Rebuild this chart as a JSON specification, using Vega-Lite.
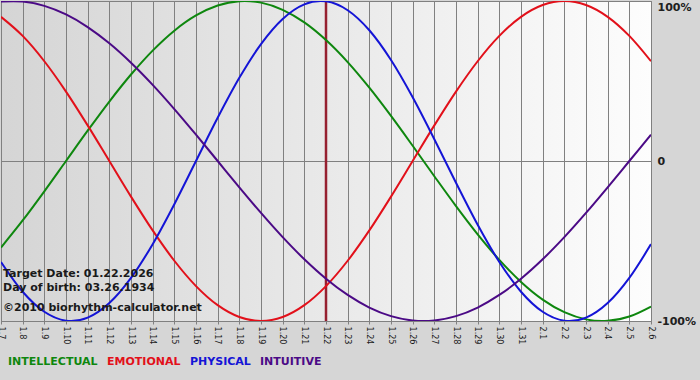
{
  "$schema": "https://vega.github.io/schema/vega-lite/v6.json",
  "width": 650,
  "height": 320,
  "autosize": "none",
  "padding": {"left": 1, "top": 1, "right": 49, "bottom": 59},
  "background": "#d6d6d6",
  "datasets": {
    "bio": [
      {"d":"1.7","s":"INTELLECTUAL","v":-0.5406},{"d":"1.8","s":"INTELLECTUAL","v":-0.3717},{"d":"1.9","s":"INTELLECTUAL","v":-0.1893},{"d":"1.10","s":"INTELLECTUAL","v":0},{"d":"1.11","s":"INTELLECTUAL","v":0.1893},{"d":"1.12","s":"INTELLECTUAL","v":0.3717},{"d":"1.13","s":"INTELLECTUAL","v":0.5406},{"d":"1.14","s":"INTELLECTUAL","v":0.6901},{"d":"1.15","s":"INTELLECTUAL","v":0.8146},{"d":"1.16","s":"INTELLECTUAL","v":0.9096},{"d":"1.17","s":"INTELLECTUAL","v":0.9718},{"d":"1.18","s":"INTELLECTUAL","v":0.9989},{"d":"1.19","s":"INTELLECTUAL","v":0.9898},{"d":"1.20","s":"INTELLECTUAL","v":0.945},{"d":"1.21","s":"INTELLECTUAL","v":0.866},{"d":"1.22","s":"INTELLECTUAL","v":0.7557},{"d":"1.23","s":"INTELLECTUAL","v":0.6182},{"d":"1.24","s":"INTELLECTUAL","v":0.4582},{"d":"1.25","s":"INTELLECTUAL","v":0.2817},{"d":"1.26","s":"INTELLECTUAL","v":0.0951},{"d":"1.27","s":"INTELLECTUAL","v":-0.0951},{"d":"1.28","s":"INTELLECTUAL","v":-0.2817},{"d":"1.29","s":"INTELLECTUAL","v":-0.4582},{"d":"1.30","s":"INTELLECTUAL","v":-0.6182},{"d":"1.31","s":"INTELLECTUAL","v":-0.7557},{"d":"2.1","s":"INTELLECTUAL","v":-0.866},{"d":"2.2","s":"INTELLECTUAL","v":-0.945},{"d":"2.3","s":"INTELLECTUAL","v":-0.9898},{"d":"2.4","s":"INTELLECTUAL","v":-0.9989},{"d":"2.5","s":"INTELLECTUAL","v":-0.9718},{"d":"2.6","s":"INTELLECTUAL","v":-0.9096},
      {"d":"1.7","s":"EMOTIONAL","v":0.901},{"d":"1.8","s":"EMOTIONAL","v":0.7818},{"d":"1.9","s":"EMOTIONAL","v":0.6235},{"d":"1.10","s":"EMOTIONAL","v":0.4339},{"d":"1.11","s":"EMOTIONAL","v":0.2225},{"d":"1.12","s":"EMOTIONAL","v":0},{"d":"1.13","s":"EMOTIONAL","v":-0.2225},{"d":"1.14","s":"EMOTIONAL","v":-0.4339},{"d":"1.15","s":"EMOTIONAL","v":-0.6235},{"d":"1.16","s":"EMOTIONAL","v":-0.7818},{"d":"1.17","s":"EMOTIONAL","v":-0.901},{"d":"1.18","s":"EMOTIONAL","v":-0.9749},{"d":"1.19","s":"EMOTIONAL","v":-1},{"d":"1.20","s":"EMOTIONAL","v":-0.9749},{"d":"1.21","s":"EMOTIONAL","v":-0.901},{"d":"1.22","s":"EMOTIONAL","v":-0.7818},{"d":"1.23","s":"EMOTIONAL","v":-0.6235},{"d":"1.24","s":"EMOTIONAL","v":-0.4339},{"d":"1.25","s":"EMOTIONAL","v":-0.2225},{"d":"1.26","s":"EMOTIONAL","v":0},{"d":"1.27","s":"EMOTIONAL","v":0.2225},{"d":"1.28","s":"EMOTIONAL","v":0.4339},{"d":"1.29","s":"EMOTIONAL","v":0.6235},{"d":"1.30","s":"EMOTIONAL","v":0.7818},{"d":"1.31","s":"EMOTIONAL","v":0.901},{"d":"2.1","s":"EMOTIONAL","v":0.9749},{"d":"2.2","s":"EMOTIONAL","v":1},{"d":"2.3","s":"EMOTIONAL","v":0.9749},{"d":"2.4","s":"EMOTIONAL","v":0.901},{"d":"2.5","s":"EMOTIONAL","v":0.7818},{"d":"2.6","s":"EMOTIONAL","v":0.6235},
      {"d":"1.7","s":"PHYSICAL","v":-0.6311},{"d":"1.8","s":"PHYSICAL","v":-0.817},{"d":"1.9","s":"PHYSICAL","v":-0.9423},{"d":"1.10","s":"PHYSICAL","v":-0.9977},{"d":"1.11","s":"PHYSICAL","v":-0.9791},{"d":"1.12","s":"PHYSICAL","v":-0.8879},{"d":"1.13","s":"PHYSICAL","v":-0.7308},{"d":"1.14","s":"PHYSICAL","v":-0.5196},{"d":"1.15","s":"PHYSICAL","v":-0.2698},{"d":"1.16","s":"PHYSICAL","v":0},{"d":"1.17","s":"PHYSICAL","v":0.2698},{"d":"1.18","s":"PHYSICAL","v":0.5196},{"d":"1.19","s":"PHYSICAL","v":0.7308},{"d":"1.20","s":"PHYSICAL","v":0.8879},{"d":"1.21","s":"PHYSICAL","v":0.9791},{"d":"1.22","s":"PHYSICAL","v":0.9977},{"d":"1.23","s":"PHYSICAL","v":0.9423},{"d":"1.24","s":"PHYSICAL","v":0.817},{"d":"1.25","s":"PHYSICAL","v":0.6311},{"d":"1.26","s":"PHYSICAL","v":0.3984},{"d":"1.27","s":"PHYSICAL","v":0.1362},{"d":"1.28","s":"PHYSICAL","v":-0.1362},{"d":"1.29","s":"PHYSICAL","v":-0.3984},{"d":"1.30","s":"PHYSICAL","v":-0.6311},{"d":"1.31","s":"PHYSICAL","v":-0.817},{"d":"2.1","s":"PHYSICAL","v":-0.9423},{"d":"2.2","s":"PHYSICAL","v":-0.9977},{"d":"2.3","s":"PHYSICAL","v":-0.9791},{"d":"2.4","s":"PHYSICAL","v":-0.8879},{"d":"2.5","s":"PHYSICAL","v":-0.7308},{"d":"2.6","s":"PHYSICAL","v":-0.5196},
      {"d":"1.7","s":"INTUITIVE","v":0.9966},{"d":"1.8","s":"INTUITIVE","v":0.9966},{"d":"1.9","s":"INTUITIVE","v":0.9694},{"d":"1.10","s":"INTUITIVE","v":0.9158},{"d":"1.11","s":"INTUITIVE","v":0.8372},{"d":"1.12","s":"INTUITIVE","v":0.7357},{"d":"1.13","s":"INTUITIVE","v":0.6142},{"d":"1.14","s":"INTUITIVE","v":0.4759},{"d":"1.15","s":"INTUITIVE","v":0.3247},{"d":"1.16","s":"INTUITIVE","v":0.1646},{"d":"1.17","s":"INTUITIVE","v":0},{"d":"1.18","s":"INTUITIVE","v":-0.1646},{"d":"1.19","s":"INTUITIVE","v":-0.3247},{"d":"1.20","s":"INTUITIVE","v":-0.4759},{"d":"1.21","s":"INTUITIVE","v":-0.6142},{"d":"1.22","s":"INTUITIVE","v":-0.7357},{"d":"1.23","s":"INTUITIVE","v":-0.8372},{"d":"1.24","s":"INTUITIVE","v":-0.9158},{"d":"1.25","s":"INTUITIVE","v":-0.9694},{"d":"1.26","s":"INTUITIVE","v":-0.9966},{"d":"1.27","s":"INTUITIVE","v":-0.9966},{"d":"1.28","s":"INTUITIVE","v":-0.9694},{"d":"1.29","s":"INTUITIVE","v":-0.9158},{"d":"1.30","s":"INTUITIVE","v":-0.8372},{"d":"1.31","s":"INTUITIVE","v":-0.7357},{"d":"2.1","s":"INTUITIVE","v":-0.6142},{"d":"2.2","s":"INTUITIVE","v":-0.4759},{"d":"2.3","s":"INTUITIVE","v":-0.3247},{"d":"2.4","s":"INTUITIVE","v":-0.1646},{"d":"2.5","s":"INTUITIVE","v":0},{"d":"2.6","s":"INTUITIVE","v":0.1646}
    ]
  },
  "layer": [
    {
      "data": {"values": [{}]},
      "mark": {"type": "rule", "color": "#962030", "strokeWidth": 2.5},
      "encoding": {"x": {"datum": "1.22", "type": "ordinal"}}
    },
    {
      "data": {"name": "bio"},
      "mark": {"type": "line", "strokeWidth": 2, "interpolate": "cardinal", "clip": true},
      "encoding": {
        "x": {
          "field": "d", "type": "ordinal",
          "scale": {"type": "point", "padding": 0, "domain": ["1.7","1.8","1.9","1.10","1.11","1.12","1.13","1.14","1.15","1.16","1.17","1.18","1.19","1.20","1.21","1.22","1.23","1.24","1.25","1.26","1.27","1.28","1.29","1.30","1.31","2.1","2.2","2.3","2.4","2.5","2.6"]},
          "axis": {
            "title": null, "labelAngle": 90, "labelAlign": "left", "labelBaseline": "middle",
            "grid": true, "gridColor": "#808080", "gridOpacity": 1,
            "tickColor": "#808080", "tickSize": 3, "domainColor": "#808080",
            "labelFont": "Tahoma, DejaVu Sans Condensed, Liberation Sans", "labelFontSize": 9,
            "labelColor": "#1a1a1a", "labelPadding": 2, "labelOverlap": false
          }
        },
        "y": {
          "field": "v", "type": "quantitative",
          "scale": {"domain": [-1, 1], "nice": false, "zero": false},
          "axis": {
            "orient": "right", "title": null, "values": [1, 0, -1], "domain": false, "ticks": false,
            "grid": true, "gridColor": "#808080", "gridOpacity": 1,
            "labelExpr": "datum.value == 1 ? '100%' : datum.value == -1 ? '-100%' : '0'",
            "labelBaseline": {"condition": {"test": "datum.value == 1", "value": "top"}, "value": "middle"},
            "labelPadding": 6, "labelFont": "DejaVu Sans", "labelFontWeight": "bold", "labelFontSize": 11,
            "labelColor": "#202020"
          }
        },
        "color": {
          "field": "s", "type": "nominal",
          "scale": {"domain": ["INTELLECTUAL", "EMOTIONAL", "PHYSICAL", "INTUITIVE"], "range": ["#0e870e", "#e2101a", "#1414d6", "#4b0a86"]},
          "legend": {
            "orient": "bottom", "direction": "horizontal", "title": null,
            "symbolSize": 1, "symbolOpacity": 0, "symbolStrokeWidth": 0, "labelOffset": -4,
            "columnPadding": 2, "padding": 0, "offset": 11, "labelLimit": 0,
            "labelFont": "DejaVu Sans", "labelFontWeight": "bold", "labelFontSize": 11,
            "labelColor": {"expr": "datum.value == 'INTELLECTUAL' ? '#0e870e' : datum.value == 'EMOTIONAL' ? '#e2101a' : datum.value == 'PHYSICAL' ? '#1414d6' : '#4b0a86'"}
          }
        }
      }
    },
    {
      "data": {"values": [{}]},
      "mark": {"type": "text", "align": "left", "baseline": "alphabetic", "dx": 2, "font": "DejaVu Sans", "fontWeight": "bold", "fontSize": 11, "color": "#1a1a1a", "text": "Target Date: 01.22.2026"},
      "encoding": {"x": {"datum": "1.7", "type": "ordinal"}, "y": {"datum": -0.725, "type": "quantitative"}}
    },
    {
      "data": {"values": [{}]},
      "mark": {"type": "text", "align": "left", "baseline": "alphabetic", "dx": 2, "font": "DejaVu Sans", "fontWeight": "bold", "fontSize": 11, "color": "#1a1a1a", "text": "Day of birth: 03.26.1934"},
      "encoding": {"x": {"datum": "1.7", "type": "ordinal"}, "y": {"datum": -0.8125, "type": "quantitative"}}
    },
    {
      "data": {"values": [{}]},
      "mark": {"type": "text", "align": "left", "baseline": "alphabetic", "dx": 2, "font": "DejaVu Sans", "fontWeight": "bold", "fontSize": 11, "color": "#1a1a1a", "text": "©2010 biorhythm-calculator.net"},
      "encoding": {"x": {"datum": "1.7", "type": "ordinal"}, "y": {"datum": -0.9375, "type": "quantitative"}}
    }
  ],
  "config": {
    "view": {
      "stroke": "#808080",
      "fill": {"gradient": "linear", "x1": 0, "y1": 0, "x2": 1, "y2": 0, "stops": [{"offset": 0, "color": "#d5d5d5"}, {"offset": 1, "color": "#fdfdfd"}]}
    }
  }
}
